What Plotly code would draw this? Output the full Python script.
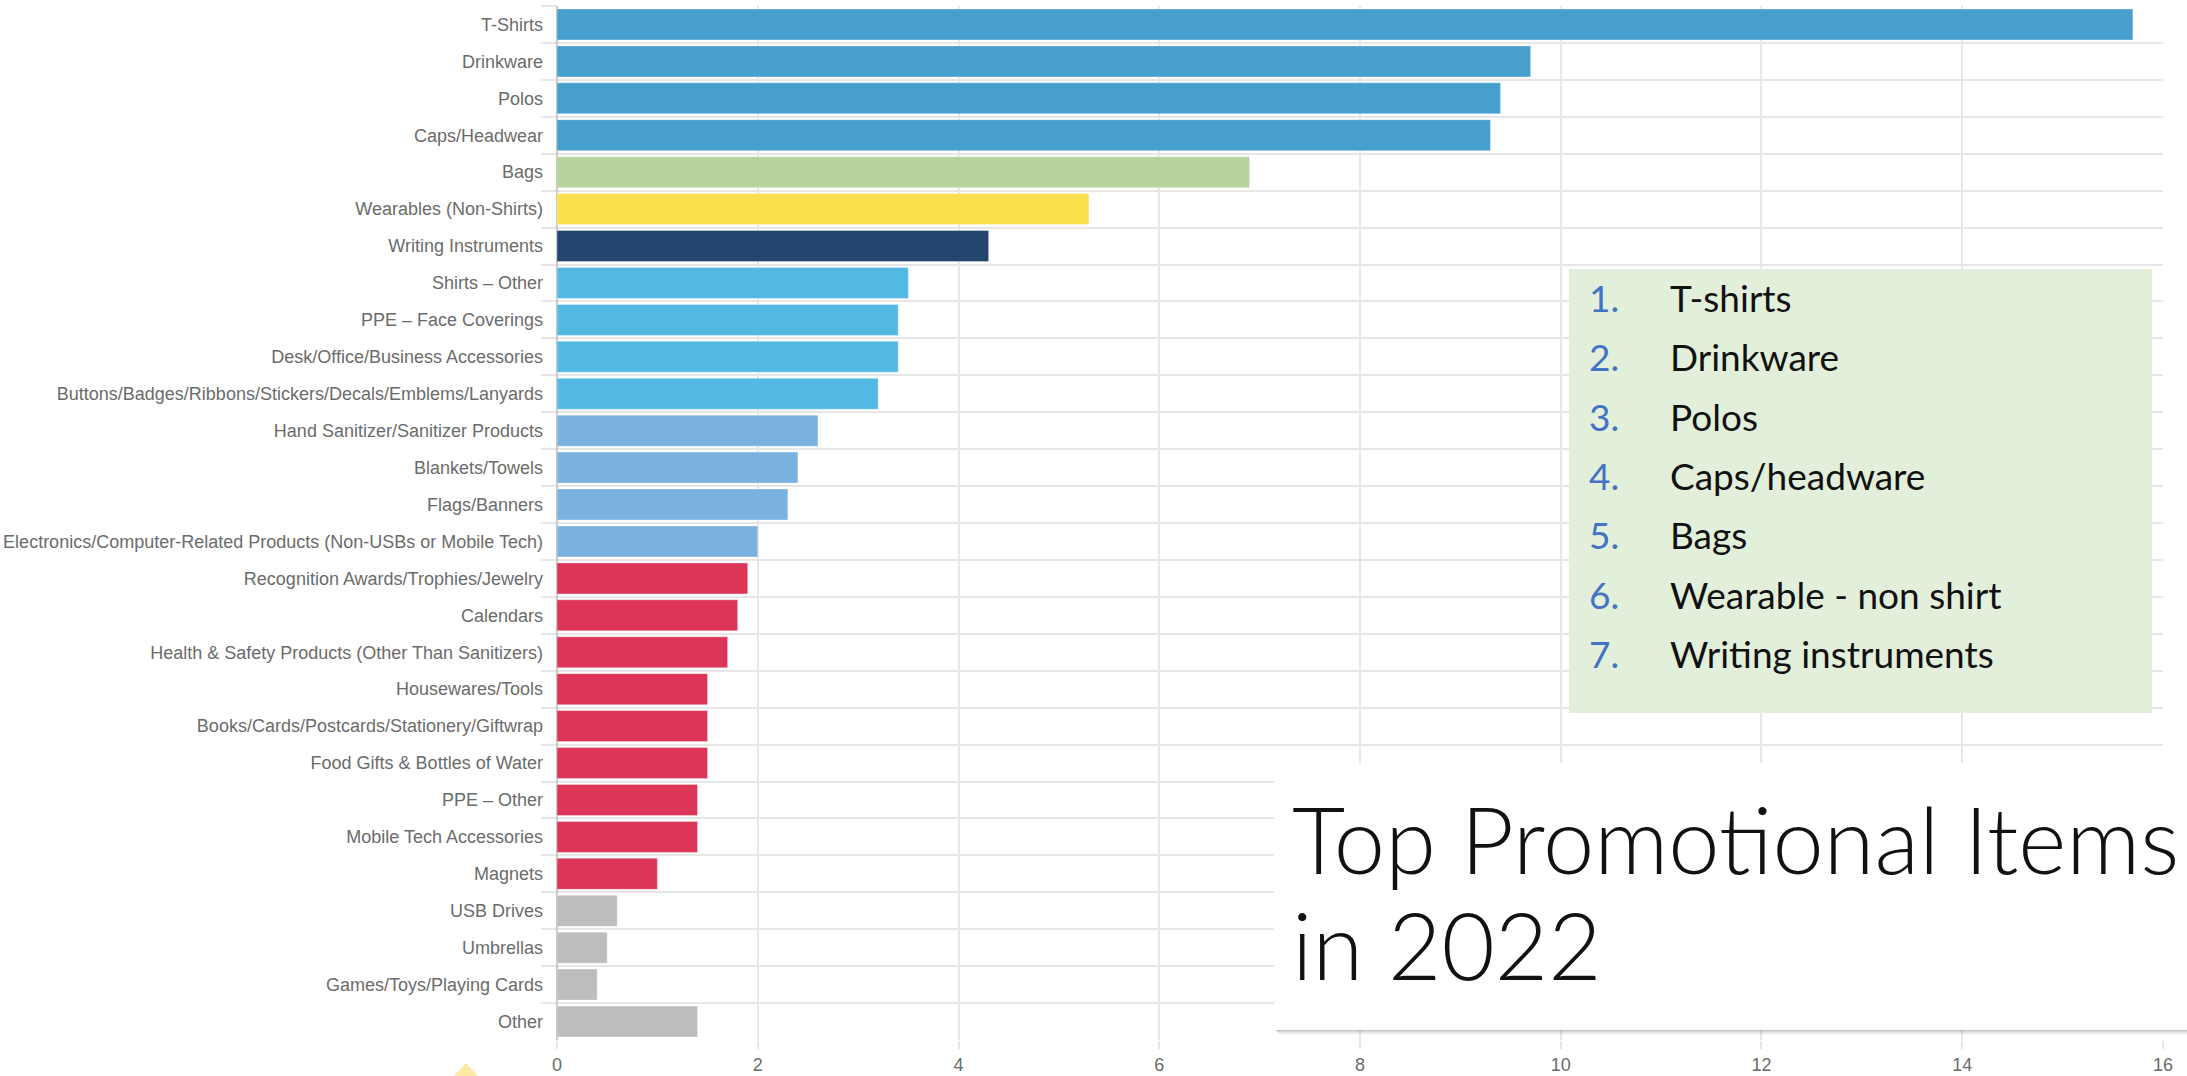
import plotly.graph_objects as go

# Survey share of promotional product categories (percent)
categories = [
    "T-Shirts", "Drinkware", "Polos", "Caps/Headwear", "Bags",
    "Wearables (Non-Shirts)", "Writing Instruments", "Shirts – Other",
    "PPE – Face Coverings", "Desk/Office/Business Accessories",
    "Buttons/Badges/Ribbons/Stickers/Decals/Emblems/Lanyards",
    "Hand Sanitizer/Sanitizer Products", "Blankets/Towels", "Flags/Banners",
    "Electronics/Computer-Related Products (Non-USBs or Mobile Tech)",
    "Recognition Awards/Trophies/Jewelry", "Calendars",
    "Health & Safety Products (Other Than Sanitizers)", "Housewares/Tools",
    "Books/Cards/Postcards/Stationery/Giftwrap", "Food Gifts & Bottles of Water",
    "PPE – Other", "Mobile Tech Accessories", "Magnets", "USB Drives",
    "Umbrellas", "Games/Toys/Playing Cards", "Other",
]
values = [
    15.7, 9.7, 9.4, 9.3, 6.9, 5.3, 4.3, 3.5, 3.4, 3.4, 3.2, 2.6, 2.4, 2.3,
    2.0, 1.9, 1.8, 1.7, 1.5, 1.5, 1.5, 1.4, 1.4, 1.0, 0.6, 0.5, 0.4, 1.4,
]
x_ticks = [0, 2, 4, 6, 8, 10, 12, 14, 16]

top_list_numbers = ["1.", "2.", "3.", "4.", "5.", "6.", "7."]
top_list_items = [
    "T-shirts", "Drinkware", "Polos", "Caps/headware", "Bags",
    "Wearable - non shirt", "Writing instruments",
]
title_lines = ["Top Promotional Items", "in 2022"]

# Bar colours by tier
BLUE = "#469fcc"
GREEN = "#b5d39b"
YELLOW = "#fbe04e"
NAVY = "#23466e"
SKY = "#52b9e3"
LIGHT_BLUE = "#7ab1df"
RED = "#dc3558"
GREY = "#bdbdbf"
bar_colors = ([BLUE] * 4 + [GREEN, YELLOW, NAVY] + [SKY] * 4 + [LIGHT_BLUE] * 4
              + [RED] * 9 + [GREY] * 4)

W, H = 2187, 1076
PL, PR, PT, PB = 557, 2163, 6, 1040  # plot area edges in pixels


def px(x):
    return (x - PL) / (PR - PL)


def py(y):
    return (PB - y) / (PB - PT)


GRID = "#e6e6e6"
LABEL_FONT = dict(family="Liberation Sans Narrow, Arial Narrow, Liberation Sans, Arial",
                  size=18, color="#6b6b6b")

fig = go.Figure(go.Bar(
    x=values, y=categories, orientation="h",
    marker=dict(color=bar_colors, line=dict(width=1, color="rgba(255,255,255,0.35)")),
    width=0.84, hoverinfo="x+y",
))

fig.update_layout(
    width=W, height=H,
    margin=dict(l=PL, r=W - PR, t=PT, b=H - PB, pad=0),
    paper_bgcolor="white", plot_bgcolor="white",
    showlegend=False,
    xaxis=dict(
        range=[0, 16.0001], tickvals=x_ticks, showgrid=True, gridcolor=GRID, gridwidth=1.5,
        zeroline=True, zerolinecolor="#c8c8c8", zerolinewidth=1.5,
        ticks="outside", ticklen=8, tickcolor=GRID, tickwidth=1.5,
        tickfont=LABEL_FONT, showline=False, automargin=False,
    ),
    yaxis=dict(
        type="category", categoryorder="array", categoryarray=categories,
        range=[len(categories) - 0.5, -0.5], tickson="boundaries",
        showgrid=True, gridcolor=GRID, gridwidth=2,
        ticks="outside", ticklen=15, tickcolor=GRID, tickwidth=2,
        ticklabelstandoff=13,
        tickfont=LABEL_FONT, showline=False, automargin=False,
    ),
)

shapes = []
# Ranking panel
shapes.append(dict(type="rect", xref="paper", yref="paper", layer="above",
                   x0=px(1569), x1=px(2152), y0=py(713), y1=py(269),
                   fillcolor="#e2efda", line=dict(width=0)))
# Title panel drop shadow
for i, op in enumerate([0.35, 0.25, 0.16, 0.09, 0.04]):
    shapes.append(dict(type="rect", xref="paper", yref="paper", layer="above",
                       x0=px(1276 + i), x1=px(W + 20), y0=py(1030 + i + 1), y1=py(1030 + i),
                       fillcolor=f"rgba(90,90,90,{op})", line=dict(width=0)))
# Title panel
shapes.append(dict(type="rect", xref="paper", yref="paper", layer="above",
                   x0=px(1274), x1=px(W + 20), y0=py(1030), y1=py(763),
                   fillcolor="white", line=dict(width=0)))
# Small decorative marker under the axis
shapes.append(dict(type="path", xref="paper", yref="paper", layer="above",
                   path=f"M {px(450)} {py(1080)} L {px(466)} {py(1063)} L {px(482)} {py(1080)} Z",
                   fillcolor="#fde9a6", line=dict(width=0)))

annotations = []
row_base = 311.7
row_step = 59.3
for i, (num, item) in enumerate(zip(top_list_numbers, top_list_items)):
    yc = row_base + i * row_step - 14
    annotations.append(dict(xref="paper", yref="paper", x=px(1587), y=py(yc),
                            xanchor="left", yanchor="middle", showarrow=False, text=num,
                            font=dict(family="Lato", size=37, color="#4472c4")))
    annotations.append(dict(xref="paper", yref="paper", x=px(1668), y=py(yc),
                            xanchor="left", yanchor="middle", showarrow=False, text=item,
                            font=dict(family="Lato", size=37, color="#111111")))

for line, base in zip(title_lines, [872, 977]):
    annotations.append(dict(xref="paper", yref="paper", x=px(1290), y=py(base - 33),
                            xanchor="left", yanchor="middle", showarrow=False, text=line,
                            font=dict(family="Lato", size=92, color="#111111", weight=300)))

fig.update_layout(shapes=shapes, annotations=annotations)

fig.write_html("out.html")
